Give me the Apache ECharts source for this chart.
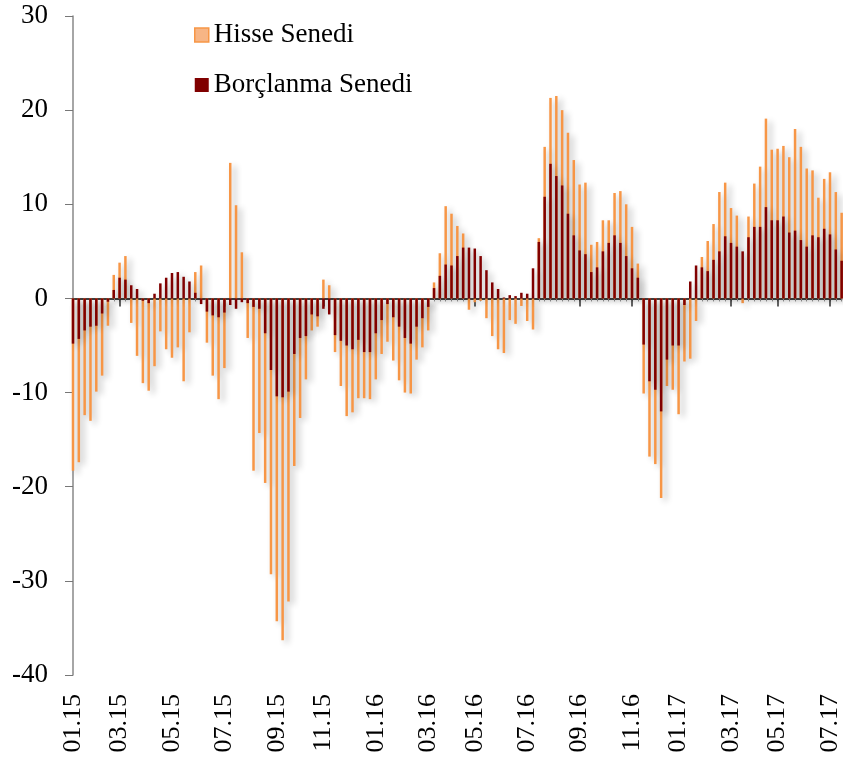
<!DOCTYPE html>
<html>
<head>
<meta charset="utf-8">
<title>Hisse / Borçlanma Senedi</title>
<script src="https://cdn.jsdelivr.net/npm/echarts@6.0.0/dist/echarts.min.js"></script>
<style>
  html, body { margin: 0; padding: 0; background: #fff; }
  #chart { width: 843px; height: 761px; }
</style>
</head>
<body>
<div id="chart"></div>
<script>
// haftalik veriler (ocak 2015 - temmuz 2017)
var hisse = [
  -18.3, -17.4, -12.4, -13.0, -9.9, -8.2, -2.9, 2.5, 3.8, 4.5,
  -2.6, -6.1, -9.0, -9.8, -7.2, -3.5, -5.4, -6.3, -5.2, -8.8,
  -3.6, 2.8, 3.5, -4.7, -8.2, -10.7, -7.4, 14.4, 9.9, 4.9,
  -4.2, -18.3, -14.3, -19.6, -29.3, -34.3, -36.3, -32.2, -17.8, -12.7,
  -8.6, -3.4, -3.0, 2.0, 1.4, -5.7, -9.3, -12.5, -12.1, -10.6,
  -10.6, -10.7, -8.6, -5.9, -4.6, -6.6, -8.7, -10.0, -10.1, -6.5,
  -5.2, -3.4, 1.7, 4.8, 9.8, 9.0, 7.7, 6.9, -1.2, -0.4,
  -0.25, -2.1, -4.0, -5.4, -5.8, -2.3, -2.7, -0.8, -2.4, -3.3,
  6.4, 16.1, 21.3, 21.5, 20.0, 17.6, 14.7, 12.1, 12.3, 5.7,
  6.0, 8.3, 8.3, 11.2, 11.4, 10.0, 7.6, 3.7, -10.1, -16.8,
  -17.6, -21.2, -9.3, -9.7, -12.3, -6.7, -6.4, -2.4, 4.4, 6.1,
  7.9, 11.3, 12.3, 9.6, 8.8, -0.5, 8.7, 12.2, 14.0, 19.1,
  15.8, 15.9, 16.2, 15.0, 18.0, 16.1, 13.8, 13.6, 10.7, 12.7,
  13.4, 11.3, 9.1
];

var borclanma = [
  -4.8, -4.3, -3.4, -3.0, -2.9, -1.6, -0.35, 0.9, 2.2, 2.0,
  1.4, 1.0, -0.25, -0.5, 0.5, 1.6, 2.2, 2.7, 2.8, 2.3,
  1.8, 0.6, -0.6, -1.4, -1.8, -2.0, -1.5, -0.7, -1.1, -0.4,
  -0.5, -0.9, -1.1, -3.7, -7.6, -10.4, -10.5, -9.9, -5.9, -4.2,
  -4.0, -1.7, -1.9, -1.1, -1.7, -3.9, -4.5, -5.0, -5.4, -4.4,
  -5.7, -5.7, -3.7, -2.3, -0.6, -2.0, -3.0, -4.2, -4.8, -3.0,
  -2.1, -0.9, 1.1, 2.4, 3.6, 3.5, 4.5, 5.4, 5.4, 5.3,
  4.5, 3.0, 1.7, 1.0, 0.1, 0.35, 0.25, 0.6, 0.5, 3.2,
  6.0, 10.8, 14.3, 13.0, 12.0, 9.0, 6.7, 5.1, 4.7, 2.8,
  3.3, 5.0, 5.9, 6.7, 5.9, 4.5, 3.2, 2.2, -4.9, -8.8,
  -9.7, -12.0, -6.5, -5.0, -5.0, -0.7, 1.8, 3.5, 3.3, 2.9,
  4.1, 5.0, 6.6, 5.9, 5.5, 5.0, 6.5, 7.6, 7.6, 9.7,
  8.3, 8.3, 8.7, 7.0, 7.2, 6.2, 5.5, 6.7, 6.5, 7.4,
  6.8, 5.2, 4.0
];

// eksen etiketleri ve denk geldikleri hafta sirasi
var tickLabels = ['01.15', '03.15', '05.15', '07.15', '09.15', '11.15', '01.16', '03.16',
                  '05.16', '07.16', '09.16', '11.16', '01.17', '03.17', '05.17', '07.17'];
var tickWeeks = [0, 8, 17, 26, 35, 43, 52, 61, 69, 78, 87, 96, 104, 113, 121, 130];

var weeks = hisse.map(function (v, i) { return 'h' + i; });

var font = 'Liberation Serif';

function isTick(index) {
    return tickWeeks.indexOf(index) >= 0;
}

function drawChart() {
    var barShadow = {
        shadowBlur: 6,
        shadowColor: 'rgba(0, 0, 0, 0.3)',
        shadowOffsetX: 4,
        shadowOffsetY: 3
    };

    var option = {
        animation: false,
        legend: {
            orient: 'vertical',
            left: 194,
            top: 20,
            padding: 0,
            icon: 'rect',
            itemWidth: 14,
            itemHeight: 14,
            itemGap: 20,
            textStyle: { fontFamily: font, fontSize: 27, color: '#000', lineHeight: 30 },
            data: [
                { name: 'Hisse Senedi', itemStyle: { color: '#F7B585', borderColor: '#F79646', borderWidth: 1.5 } },
                { name: 'Borçlanma Senedi', itemStyle: { color: '#800000' } }
            ]
        },
        grid: { left: 73, right: 1, top: 16, bottom: 86 },
        xAxis: [
            {
                // alttaki etiketler
                type: 'category',
                data: weeks,
                boundaryGap: false,
                position: 'bottom',
                axisLine: { show: false, onZero: false },
                axisTick: { show: false },
                axisLabel: {
                    interval: function (index) { return isTick(index); },
                    formatter: function (value, index) {
                        var k = tickWeeks.indexOf(index);
                        return k >= 0 ? tickLabels[k] : '';
                    },
                    rotate: 90,
                    margin: 19,
                    fontFamily: font,
                    fontSize: 26,
                    color: '#000'
                }
            },
            {
                // sifir cizgisi ve kucuk tikler
                type: 'category',
                data: weeks,
                boundaryGap: false,
                position: 'bottom',
                axisLine: { show: true, onZero: true, onZeroAxisIndex: 0, lineStyle: { color: '#000', width: 1.5 } },
                axisTick: { show: true, interval: 0, length: 3, lineStyle: { color: '#999' } },
                axisLabel: { show: false }
            },
            {
                // iki ayda bir buyuk tikler
                type: 'category',
                data: weeks,
                boundaryGap: false,
                position: 'bottom',
                axisLine: { show: false, onZero: true, onZeroAxisIndex: 0 },
                axisTick: {
                    show: true,
                    interval: function (index) { return isTick(index); },
                    length: 8,
                    lineStyle: { color: '#333', width: 1.5 }
                },
                axisLabel: { show: false }
            }
        ],
        yAxis: {
            type: 'value',
            min: -40,
            max: 30,
            interval: 10,
            axisLine: { show: true, lineStyle: { color: '#888', width: 1.5 } },
            axisTick: { show: true, length: 8, lineStyle: { color: '#777' } },
            splitLine: { show: false },
            axisLabel: { margin: 25, fontFamily: font, fontSize: 27, color: '#000' }
        },
        series: [
            {
                name: 'Hisse Senedi',
                type: 'bar',
                barWidth: 2.5,
                barGap: '-100%',
                itemStyle: Object.assign({ color: '#F79646' }, barShadow),
                data: hisse
            },
            {
                name: 'Borçlanma Senedi',
                type: 'bar',
                barWidth: 2.5,
                barGap: '-100%',
                itemStyle: Object.assign({ color: '#800000' }, barShadow),
                data: borclanma
            }
        ]
    };

    var myChart = echarts.init(document.getElementById('chart'));
    myChart.setOption(option, true);
}

drawChart();
</script>
</body>
</html>
